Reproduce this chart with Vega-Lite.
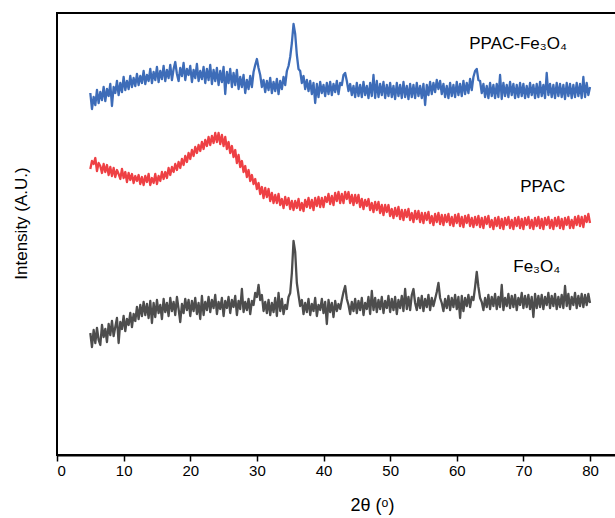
{
  "$schema": "https://vega.github.io/schema/vega-lite/v6.json",
  "width": 565,
  "height": 442,
  "autosize": "none",
  "padding": {"left": 57, "top": 13, "right": 0, "bottom": 63},
  "background": "white",
  "config": {
    "font": "Liberation Sans",
    "view": {"stroke": "black", "strokeWidth": 2}
  },
  "datasets": {
    "xrd": [
      {"x":5,"fe":122,"ppac":286,"comp":362},{"x":5.25,"fe":108,"ppac":294,"comp":346},{"x":5.5,"fe":125,"ppac":291,"comp":358},{"x":5.75,"fe":112,"ppac":297,"comp":350},
      {"x":6,"fe":127,"ppac":284,"comp":365},{"x":6.25,"fe":115,"ppac":292,"comp":352},{"x":6.5,"fe":110,"ppac":289,"comp":363},{"x":6.75,"fe":130,"ppac":282,"comp":355},
      {"x":7,"fe":118,"ppac":291,"comp":368},{"x":7.25,"fe":126,"ppac":283,"comp":354},{"x":7.5,"fe":113,"ppac":290,"comp":366},{"x":7.75,"fe":131,"ppac":280,"comp":359},
      {"x":8,"fe":120,"ppac":288,"comp":371},{"x":8.25,"fe":134,"ppac":279,"comp":349},{"x":8.5,"fe":119,"ppac":287,"comp":368},{"x":8.75,"fe":128,"ppac":278,"comp":362},
      {"x":9,"fe":137,"ppac":285,"comp":374},{"x":9.25,"fe":112,"ppac":281,"comp":360},{"x":9.5,"fe":133,"ppac":276,"comp":372},{"x":9.75,"fe":126,"ppac":286,"comp":363},
      {"x":10,"fe":139,"ppac":277,"comp":378},{"x":10.25,"fe":124,"ppac":283,"comp":365},{"x":10.5,"fe":136,"ppac":273,"comp":374},{"x":10.75,"fe":130,"ppac":282,"comp":366},
      {"x":11,"fe":142,"ppac":275,"comp":379},{"x":11.25,"fe":128,"ppac":281,"comp":368},{"x":11.5,"fe":141,"ppac":272,"comp":377},{"x":11.75,"fe":134,"ppac":279,"comp":369},
      {"x":12,"fe":148,"ppac":274,"comp":381},{"x":12.25,"fe":136,"ppac":280,"comp":370},{"x":12.5,"fe":150,"ppac":271,"comp":379},{"x":12.75,"fe":139,"ppac":278,"comp":372},
      {"x":13,"fe":153,"ppac":270,"comp":384},{"x":13.25,"fe":140,"ppac":279,"comp":371},{"x":13.5,"fe":151,"ppac":273,"comp":380},{"x":13.75,"fe":137,"ppac":281,"comp":374},
      {"x":14,"fe":154,"ppac":270,"comp":386},{"x":14.25,"fe":132,"ppac":277,"comp":372},{"x":14.5,"fe":152,"ppac":272,"comp":383},{"x":14.75,"fe":138,"ppac":281,"comp":375},
      {"x":15,"fe":155,"ppac":271,"comp":388},{"x":15.25,"fe":142,"ppac":279,"comp":373},{"x":15.5,"fe":150,"ppac":274,"comp":384},{"x":15.75,"fe":136,"ppac":283,"comp":376},
      {"x":16,"fe":156,"ppac":276,"comp":389},{"x":16.25,"fe":143,"ppac":283,"comp":374},{"x":16.5,"fe":152,"ppac":277,"comp":385},{"x":16.75,"fe":139,"ppac":287,"comp":377},
      {"x":17,"fe":157,"ppac":280,"comp":390},{"x":17.25,"fe":144,"ppac":288,"comp":375},{"x":17.5,"fe":153,"ppac":283,"comp":386},{"x":17.75,"fe":140,"ppac":291,"comp":393},
      {"x":18,"fe":158,"ppac":285,"comp":381},{"x":18.25,"fe":146,"ppac":293,"comp":374},{"x":18.5,"fe":133,"ppac":287,"comp":387},{"x":18.75,"fe":151,"ppac":296,"comp":379},
      {"x":19,"fe":142,"ppac":290,"comp":392},{"x":19.25,"fe":156,"ppac":299,"comp":375},{"x":19.5,"fe":145,"ppac":293,"comp":386},{"x":19.75,"fe":155,"ppac":302,"comp":380},
      {"x":20,"fe":139,"ppac":296,"comp":389},{"x":20.25,"fe":154,"ppac":305,"comp":373},{"x":20.5,"fe":144,"ppac":299,"comp":385},{"x":20.75,"fe":157,"ppac":308,"comp":377},
      {"x":21,"fe":141,"ppac":302,"comp":391},{"x":21.25,"fe":152,"ppac":310,"comp":374},{"x":21.5,"fe":136,"ppac":304,"comp":384},{"x":21.75,"fe":159,"ppac":313,"comp":376},
      {"x":22,"fe":140,"ppac":306,"comp":388},{"x":22.25,"fe":153,"ppac":315,"comp":372},{"x":22.5,"fe":145,"ppac":309,"comp":386},{"x":22.75,"fe":158,"ppac":318,"comp":375},
      {"x":23,"fe":143,"ppac":310,"comp":390},{"x":23.25,"fe":155,"ppac":319,"comp":371},{"x":23.5,"fe":147,"ppac":312,"comp":385},{"x":23.75,"fe":160,"ppac":322,"comp":374},
      {"x":24,"fe":141,"ppac":313,"comp":387},{"x":24.25,"fe":153,"ppac":322,"comp":370},{"x":24.5,"fe":146,"ppac":311,"comp":384},{"x":24.75,"fe":157,"ppac":320,"comp":373},
      {"x":25,"fe":139,"ppac":309,"comp":388},{"x":25.25,"fe":154,"ppac":318,"comp":361},{"x":25.5,"fe":147,"ppac":306,"comp":383},{"x":25.75,"fe":158,"ppac":313,"comp":372},
      {"x":26,"fe":142,"ppac":302,"comp":386},{"x":26.25,"fe":155,"ppac":309,"comp":368},{"x":26.5,"fe":148,"ppac":298,"comp":382},{"x":26.75,"fe":159,"ppac":305,"comp":370},
      {"x":27,"fe":140,"ppac":292,"comp":385},{"x":27.25,"fe":154,"ppac":300,"comp":366},{"x":27.5,"fe":146,"ppac":288,"comp":378},{"x":27.75,"fe":166,"ppac":294,"comp":368},
      {"x":28,"fe":143,"ppac":283,"comp":380},{"x":28.25,"fe":153,"ppac":289,"comp":362},{"x":28.5,"fe":145,"ppac":278,"comp":375},{"x":28.75,"fe":156,"ppac":285,"comp":366},
      {"x":29,"fe":141,"ppac":274,"comp":379},{"x":29.25,"fe":154,"ppac":280,"comp":368},{"x":29.5,"fe":150,"ppac":271,"comp":383},{"x":29.75,"fe":162,"ppac":276,"comp":390},
      {"x":30,"fe":158,"ppac":266,"comp":396},{"x":30.25,"fe":170,"ppac":272,"comp":387},{"x":30.5,"fe":155,"ppac":261,"comp":380},{"x":30.75,"fe":160,"ppac":268,"comp":368},
      {"x":31,"fe":144,"ppac":257,"comp":375},{"x":31.25,"fe":153,"ppac":267,"comp":363},{"x":31.5,"fe":142,"ppac":258,"comp":374},{"x":31.75,"fe":155,"ppac":266,"comp":365},
      {"x":32,"fe":140,"ppac":254,"comp":377},{"x":32.25,"fe":152,"ppac":262,"comp":362},{"x":32.5,"fe":143,"ppac":252,"comp":373},{"x":32.75,"fe":157,"ppac":260,"comp":364},
      {"x":33,"fe":139,"ppac":252,"comp":376},{"x":33.25,"fe":162,"ppac":261,"comp":361},{"x":33.5,"fe":144,"ppac":250,"comp":374},{"x":33.75,"fe":156,"ppac":256,"comp":366},
      {"x":34,"fe":141,"ppac":247,"comp":378},{"x":34.25,"fe":150,"ppac":258,"comp":370},{"x":34.5,"fe":146,"ppac":250,"comp":384},{"x":34.75,"fe":158,"ppac":257,"comp":389},
      {"x":35,"fe":162,"ppac":246,"comp":398},{"x":35.25,"fe":182,"ppac":254,"comp":412},{"x":35.5,"fe":214,"ppac":245,"comp":431},{"x":35.75,"fe":203,"ppac":254,"comp":421},
      {"x":36,"fe":172,"ppac":247,"comp":400},{"x":36.25,"fe":160,"ppac":256,"comp":386},{"x":36.5,"fe":149,"ppac":245,"comp":384},{"x":36.75,"fe":155,"ppac":252,"comp":372},
      {"x":37,"fe":141,"ppac":244,"comp":379},{"x":37.25,"fe":152,"ppac":255,"comp":366},{"x":37.5,"fe":143,"ppac":248,"comp":375},{"x":37.75,"fe":156,"ppac":257,"comp":364},
      {"x":38,"fe":140,"ppac":247,"comp":374},{"x":38.25,"fe":151,"ppac":255,"comp":361},{"x":38.5,"fe":144,"ppac":245,"comp":372},{"x":38.75,"fe":157,"ppac":257,"comp":352},
      {"x":39,"fe":139,"ppac":249,"comp":371},{"x":39.25,"fe":150,"ppac":258,"comp":358},{"x":39.5,"fe":145,"ppac":248,"comp":373},{"x":39.75,"fe":156,"ppac":257,"comp":362},
      {"x":40,"fe":142,"ppac":248,"comp":370},{"x":40.25,"fe":153,"ppac":258,"comp":359},{"x":40.5,"fe":131,"ppac":253,"comp":372},{"x":40.75,"fe":155,"ppac":261,"comp":361},
      {"x":41,"fe":143,"ppac":251,"comp":373},{"x":41.25,"fe":152,"ppac":259,"comp":360},{"x":41.5,"fe":138,"ppac":250,"comp":371},{"x":41.75,"fe":154,"ppac":262,"comp":363},
      {"x":42,"fe":144,"ppac":254,"comp":374},{"x":42.25,"fe":151,"ppac":263,"comp":361},{"x":42.5,"fe":146,"ppac":252,"comp":372},{"x":42.75,"fe":155,"ppac":261,"comp":370},
      {"x":43,"fe":163,"ppac":252,"comp":380},{"x":43.25,"fe":169,"ppac":263,"comp":382},{"x":43.5,"fe":156,"ppac":256,"comp":374},{"x":43.75,"fe":150,"ppac":263,"comp":364},
      {"x":44,"fe":141,"ppac":252,"comp":371},{"x":44.25,"fe":153,"ppac":260,"comp":360},{"x":44.5,"fe":144,"ppac":250,"comp":369},{"x":44.75,"fe":156,"ppac":260,"comp":358},
      {"x":45,"fe":142,"ppac":252,"comp":372},{"x":45.25,"fe":154,"ppac":260,"comp":359},{"x":45.5,"fe":145,"ppac":248,"comp":370},{"x":45.75,"fe":157,"ppac":256,"comp":358},
      {"x":46,"fe":140,"ppac":246,"comp":373},{"x":46.25,"fe":152,"ppac":255,"comp":360},{"x":46.5,"fe":146,"ppac":249,"comp":369},{"x":46.75,"fe":158,"ppac":256,"comp":357},
      {"x":47,"fe":141,"ppac":245,"comp":372},{"x":47.25,"fe":164,"ppac":252,"comp":359},{"x":47.5,"fe":145,"ppac":243,"comp":380},{"x":47.75,"fe":157,"ppac":253,"comp":357},
      {"x":48,"fe":143,"ppac":245,"comp":374},{"x":48.25,"fe":155,"ppac":253,"comp":358},{"x":48.5,"fe":146,"ppac":242,"comp":371},{"x":48.75,"fe":158,"ppac":250,"comp":360},
      {"x":49,"fe":142,"ppac":240,"comp":373},{"x":49.25,"fe":154,"ppac":250,"comp":357},{"x":49.5,"fe":147,"ppac":243,"comp":370},{"x":49.75,"fe":159,"ppac":250,"comp":359},
      {"x":50,"fe":143,"ppac":239,"comp":372},{"x":50.25,"fe":156,"ppac":246,"comp":358},{"x":50.5,"fe":145,"ppac":237,"comp":369},{"x":50.75,"fe":158,"ppac":247,"comp":356},
      {"x":51,"fe":141,"ppac":239,"comp":372},{"x":51.25,"fe":155,"ppac":248,"comp":359},{"x":51.5,"fe":147,"ppac":236,"comp":370},{"x":51.75,"fe":159,"ppac":245,"comp":357},
      {"x":52,"fe":144,"ppac":235,"comp":373},{"x":52.25,"fe":166,"ppac":245,"comp":358},{"x":52.5,"fe":146,"ppac":238,"comp":369},{"x":52.75,"fe":158,"ppac":246,"comp":356},
      {"x":53,"fe":145,"ppac":235,"comp":371},{"x":53.25,"fe":160,"ppac":242,"comp":358},{"x":53.5,"fe":166,"ppac":233,"comp":370},{"x":53.75,"fe":152,"ppac":244,"comp":357},
      {"x":54,"fe":145,"ppac":236,"comp":372},{"x":54.25,"fe":157,"ppac":244,"comp":359},{"x":54.5,"fe":147,"ppac":233,"comp":369},{"x":54.75,"fe":159,"ppac":242,"comp":357},
      {"x":55,"fe":144,"ppac":232,"comp":371},{"x":55.25,"fe":156,"ppac":242,"comp":350},{"x":55.5,"fe":148,"ppac":235,"comp":370},{"x":55.75,"fe":160,"ppac":243,"comp":360},
      {"x":56,"fe":145,"ppac":232,"comp":373},{"x":56.25,"fe":157,"ppac":239,"comp":361},{"x":56.5,"fe":149,"ppac":230,"comp":372},{"x":56.75,"fe":156,"ppac":241,"comp":363},
      {"x":57,"fe":163,"ppac":233,"comp":375},{"x":57.25,"fe":172,"ppac":242,"comp":366},{"x":57.5,"fe":157,"ppac":231,"comp":374},{"x":57.75,"fe":152,"ppac":240,"comp":361},
      {"x":58,"fe":144,"ppac":230,"comp":371},{"x":58.25,"fe":156,"ppac":240,"comp":358},{"x":58.5,"fe":147,"ppac":233,"comp":369},{"x":58.75,"fe":159,"ppac":241,"comp":357},
      {"x":59,"fe":145,"ppac":230,"comp":372},{"x":59.25,"fe":157,"ppac":238,"comp":359},{"x":59.5,"fe":148,"ppac":229,"comp":370},{"x":59.75,"fe":160,"ppac":240,"comp":358},
      {"x":60,"fe":146,"ppac":232,"comp":373},{"x":60.25,"fe":158,"ppac":241,"comp":360},{"x":60.5,"fe":137,"ppac":229,"comp":371},{"x":60.75,"fe":159,"ppac":238,"comp":359},
      {"x":61,"fe":144,"ppac":228,"comp":374},{"x":61.25,"fe":157,"ppac":239,"comp":361},{"x":61.5,"fe":149,"ppac":232,"comp":372},{"x":61.75,"fe":160,"ppac":240,"comp":362},
      {"x":62,"fe":148,"ppac":229,"comp":376},{"x":62.25,"fe":158,"ppac":237,"comp":365},{"x":62.5,"fe":155,"ppac":228,"comp":378},{"x":62.75,"fe":168,"ppac":238,"comp":384},
      {"x":63,"fe":183,"ppac":230,"comp":386},{"x":63.25,"fe":168,"ppac":239,"comp":375},{"x":63.5,"fe":157,"ppac":228,"comp":374},{"x":63.75,"fe":153,"ppac":237,"comp":362},
      {"x":64,"fe":145,"ppac":227,"comp":371},{"x":64.25,"fe":157,"ppac":238,"comp":358},{"x":64.5,"fe":148,"ppac":231,"comp":369},{"x":64.75,"fe":160,"ppac":239,"comp":357},
      {"x":65,"fe":146,"ppac":228,"comp":372},{"x":65.25,"fe":158,"ppac":235,"comp":359},{"x":65.5,"fe":149,"ppac":226,"comp":370},{"x":65.75,"fe":161,"ppac":237,"comp":357},
      {"x":66,"fe":146,"ppac":229,"comp":371},{"x":66.25,"fe":158,"ppac":238,"comp":358},{"x":66.5,"fe":148,"ppac":227,"comp":380},{"x":66.75,"fe":170,"ppac":236,"comp":356},
      {"x":67,"fe":145,"ppac":226,"comp":372},{"x":67.25,"fe":157,"ppac":237,"comp":359},{"x":67.5,"fe":149,"ppac":230,"comp":370},{"x":67.75,"fe":161,"ppac":238,"comp":358},
      {"x":68,"fe":147,"ppac":227,"comp":373},{"x":68.25,"fe":159,"ppac":235,"comp":360},{"x":68.5,"fe":148,"ppac":226,"comp":371},{"x":68.75,"fe":160,"ppac":237,"comp":357},
      {"x":69,"fe":145,"ppac":229,"comp":370},{"x":69.25,"fe":157,"ppac":238,"comp":358},{"x":69.5,"fe":150,"ppac":227,"comp":372},{"x":69.75,"fe":162,"ppac":236,"comp":359},
      {"x":70,"fe":147,"ppac":226,"comp":371},{"x":70.25,"fe":159,"ppac":237,"comp":357},{"x":70.5,"fe":148,"ppac":230,"comp":369},{"x":70.75,"fe":160,"ppac":238,"comp":358},
      {"x":71,"fe":146,"ppac":227,"comp":372},{"x":71.25,"fe":158,"ppac":235,"comp":360},{"x":71.5,"fe":138,"ppac":226,"comp":370},{"x":71.75,"fe":161,"ppac":237,"comp":357},
      {"x":72,"fe":147,"ppac":229,"comp":371},{"x":72.25,"fe":159,"ppac":238,"comp":358},{"x":72.5,"fe":148,"ppac":227,"comp":373},{"x":72.75,"fe":160,"ppac":236,"comp":359},
      {"x":73,"fe":146,"ppac":226,"comp":370},{"x":73.25,"fe":158,"ppac":237,"comp":357},{"x":73.5,"fe":150,"ppac":230,"comp":382},{"x":73.75,"fe":162,"ppac":238,"comp":360},
      {"x":74,"fe":147,"ppac":227,"comp":371},{"x":74.25,"fe":159,"ppac":235,"comp":358},{"x":74.5,"fe":149,"ppac":226,"comp":370},{"x":74.75,"fe":161,"ppac":237,"comp":357},
      {"x":75,"fe":146,"ppac":229,"comp":372},{"x":75.25,"fe":158,"ppac":238,"comp":359},{"x":75.5,"fe":148,"ppac":227,"comp":371},{"x":75.75,"fe":160,"ppac":236,"comp":358},
      {"x":76,"fe":147,"ppac":226,"comp":370},{"x":76.25,"fe":169,"ppac":237,"comp":356},{"x":76.5,"fe":149,"ppac":230,"comp":372},{"x":76.75,"fe":161,"ppac":238,"comp":359},
      {"x":77,"fe":146,"ppac":227,"comp":371},{"x":77.25,"fe":158,"ppac":235,"comp":357},{"x":77.5,"fe":150,"ppac":227,"comp":370},{"x":77.75,"fe":162,"ppac":238,"comp":358},
      {"x":78,"fe":147,"ppac":230,"comp":372},{"x":78.25,"fe":159,"ppac":239,"comp":359},{"x":78.5,"fe":149,"ppac":229,"comp":371},{"x":78.75,"fe":161,"ppac":238,"comp":357},
      {"x":79,"fe":148,"ppac":228,"comp":378},{"x":79.25,"fe":160,"ppac":239,"comp":358},{"x":79.5,"fe":150,"ppac":233,"comp":372},{"x":79.75,"fe":161,"ppac":241,"comp":360},
      {"x":80,"fe":152,"ppac":232,"comp":368}
    ],
    "tags": [
      {"x": 69.2, "y": 411, "t": "PPAC-Fe₃O₄"},
      {"x": 72.9, "y": 268, "t": "PPAC"},
      {"x": 72.0, "y": 188, "t": "Fe₃O₄"}
    ]
  },
  "layer": [
    {
      "data": {"name": "xrd"},
      "transform": [{"fold": ["fe", "ppac", "comp"], "as": ["sample", "intensity"]}],
      "mark": {"type": "line", "strokeWidth": 2.3, "strokeJoin": "round"},
      "encoding": {
        "x": {
          "field": "x",
          "type": "quantitative",
          "scale": {"domain": [0, 84.8], "nice": false},
          "axis": {
            "values": [0, 5, 10, 15, 20, 25, 30, 35, 40, 45, 50, 55, 60, 65, 70, 75, 80],
            "labelExpr": "datum.value % 10 === 0 ? datum.label : ''",
            "tickSize": {"condition": {"test": "datum.value % 10 === 0", "value": 6}, "value": 4},
            "tickColor": "black",
            "tickWidth": 1.5,
            "domainColor": "black",
            "domainWidth": 2,
            "grid": false,
            "labelFontSize": 15,
            "labelColor": "black",
            "labelPadding": 2,
            "title": "2θ (ᵒ)",
            "titleFontSize": 18,
            "titleFontWeight": "normal",
            "titleColor": "black",
            "titleX": 315,
            "titlePadding": 18
          }
        },
        "y": {
          "field": "intensity",
          "type": "quantitative",
          "scale": {"domain": [0, 442], "nice": false},
          "axis": {
            "title": "Intensity (A.U.)",
            "labels": false,
            "ticks": false,
            "domain": false,
            "grid": false,
            "titleFontSize": 17,
            "titleFontWeight": "normal",
            "titleColor": "black",
            "titlePadding": 27,
            "titleY": 210
          }
        },
        "color": {
          "field": "sample",
          "type": "nominal",
          "scale": {"domain": ["fe", "ppac", "comp"], "range": ["#4d4d4d", "#ee4044", "#3d6cb8"]},
          "legend": null
        }
      }
    },
    {
      "data": {"name": "tags"},
      "mark": {"type": "text", "fontSize": 17, "align": "center", "baseline": "middle", "color": "black"},
      "encoding": {
        "x": {"field": "x", "type": "quantitative"},
        "y": {"field": "y", "type": "quantitative"},
        "text": {"field": "t"}
      }
    }
  ]
}
